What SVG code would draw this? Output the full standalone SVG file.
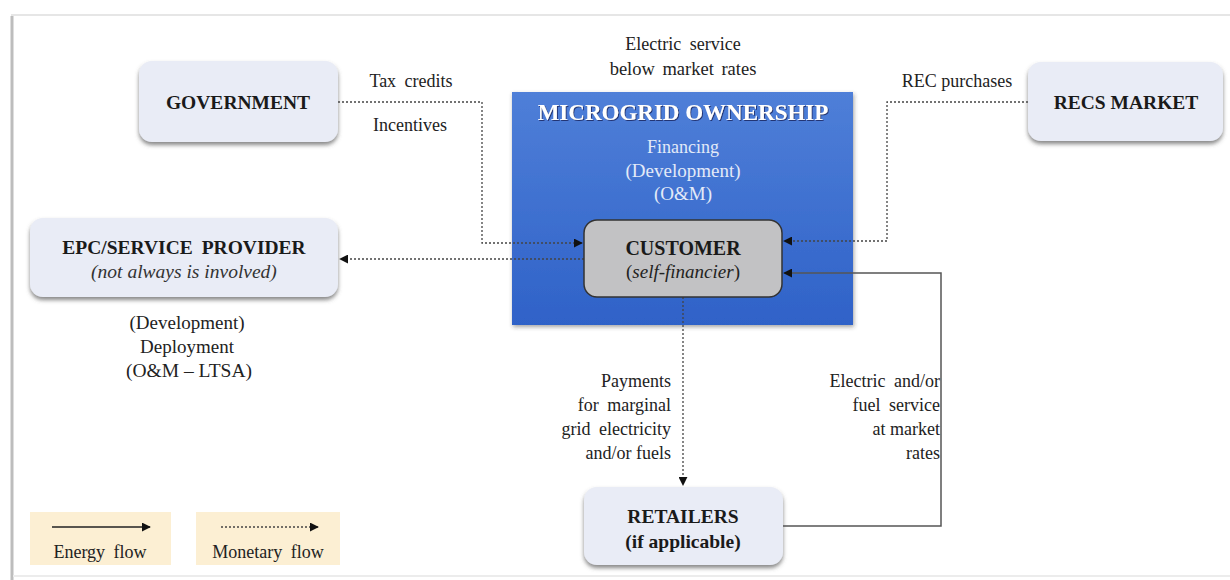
<svg xmlns="http://www.w3.org/2000/svg" width="1230" height="580" viewBox="0 0 1230 580">
  <defs>
    <style>
      text { font-family: 'Liberation Serif', 'Times New Roman', 'DejaVu Serif', serif; white-space: pre; }
      .t { font-size: 18px; fill: #222; }
      .b { font-weight: bold; font-size: 19.5px; fill: #1a1a1a; }
      .i { font-style: italic; font-size: 19.5px; fill: #333; }
      .w { word-spacing: 4px; }
      .node { fill: #e9ecf6; }
      .mono { stroke: #444; stroke-width: 1.3; stroke-dasharray: 2 2; fill: none; }
      .energy { stroke: #555; stroke-width: 1.5; fill: none; }
      .lg { fill: #fcefd3; }
      .pale { fill: #e3eaf8; }
    </style>
    <linearGradient id="blue" x1="0" y1="0" x2="0" y2="1">
      <stop offset="0" stop-color="#4f7fd8"/>
      <stop offset="1" stop-color="#2f62c8"/>
    </linearGradient>
    <filter id="shadow" x="-10%" y="-10%" width="120%" height="130%">
      <feDropShadow dx="0" dy="3" stdDeviation="2" flood-color="#555" flood-opacity="0.7"/>
    </filter>
    <filter id="soft" x="-10%" y="-10%" width="120%" height="130%">
      <feDropShadow dx="1" dy="2" stdDeviation="2" flood-color="#333" flood-opacity="0.45"/>
    </filter>
    <filter id="glow" x="-5%" y="-30%" width="110%" height="160%">
      <feDropShadow dx="1" dy="1" stdDeviation="0.6" flood-color="#1a2d6b" flood-opacity="0.9"/>
    </filter>
    <marker id="arr" viewBox="0 0 10 10" refX="9" refY="5" markerWidth="9" markerHeight="9" markerUnits="userSpaceOnUse" orient="auto">
      <path d="M0,0 L10,5 L0,10 z" fill="#111"/>
    </marker>
  </defs>

  <!-- page frame -->
  <rect x="0" y="0" width="1230" height="580" fill="#fff"/>
  <line x1="12" y1="16" x2="12" y2="580" stroke="#bdbdbd" stroke-width="3"/>
  <line x1="11" y1="15" x2="1230" y2="15" stroke="#e6e6e6" stroke-width="2"/>
  <line x1="13" y1="576" x2="1230" y2="576" stroke="#ececec" stroke-width="2"/>

  <!-- ownership block -->
  <g id="ownership">
    <rect x="512" y="92" width="341" height="233" fill="url(#blue)" filter="url(#soft)"/>
    <text class="t b" x="683" y="120" text-anchor="middle" style="fill:#fff;font-size:23px" filter="url(#glow)">MICROGRID OWNERSHIP</text>
    <text class="t pale" x="683" y="153" text-anchor="middle">Financing</text>
    <text class="t pale" x="683" y="177" text-anchor="middle" style="font-size:19px">(Development)</text>
    <text class="t pale" x="683" y="200" text-anchor="middle" style="font-size:19px">(O&amp;M)</text>
  </g>

  <!-- connectors -->
  <g id="connectors">
    <path class="mono" d="M338,102 H482 V243 H582" marker-end="url(#arr)"/>
    <path class="mono" d="M1028,102 H887 V241 H784" marker-end="url(#arr)"/>
    <path class="mono" d="M584,259 H340" marker-end="url(#arr)"/>
    <path class="mono" d="M683,297 V485" marker-end="url(#arr)"/>
    <path class="energy" d="M783,526 H941 V273 H784" marker-end="url(#arr)"/>
  </g>

  <!-- connector labels -->
  <g id="labels">
    <text class="t w" x="411" y="87" text-anchor="middle">Tax credits</text>
    <text class="t" x="410" y="131" text-anchor="middle">Incentives</text>
    <text class="t w" x="683" y="50" text-anchor="middle">Electric service</text>
    <text class="t" x="683" y="75" text-anchor="middle" style="word-spacing:3px;font-size:18.5px">below market rates</text>
    <text class="t" x="957" y="87" text-anchor="middle">REC purchases</text>
    <text class="t" x="671" y="387" text-anchor="end">Payments</text>
    <text class="t w" x="671" y="411" text-anchor="end">for marginal</text>
    <text class="t w" x="671" y="435" text-anchor="end">grid electricity</text>
    <text class="t" x="671" y="459" text-anchor="end">and/or fuels</text>
    <text class="t w" x="940" y="387" text-anchor="end">Electric and/or</text>
    <text class="t w" x="940" y="411" text-anchor="end">fuel service</text>
    <text class="t" x="940" y="435" text-anchor="end">at market</text>
    <text class="t" x="940" y="459" text-anchor="end">rates</text>
  </g>

  <g id="government">
    <rect class="node" x="139" y="61" width="199" height="81" rx="13" filter="url(#shadow)"/>
    <text class="t b" x="238" y="109" text-anchor="middle">GOVERNMENT</text>
  </g>

  <g id="recs-market">
    <rect class="node" x="1028" y="62" width="195" height="79" rx="13" filter="url(#shadow)"/>
    <text class="t b" x="1126" y="109" text-anchor="middle">RECS MARKET</text>
  </g>

  <g id="epc-provider">
    <rect class="node" x="30" y="218" width="308" height="79" rx="13" filter="url(#shadow)"/>
    <text class="t b w" x="184" y="254" text-anchor="middle">EPC/SERVICE PROVIDER</text>
    <text class="t i" x="184" y="278" text-anchor="middle">(not always is involved)</text>
    <text class="t" x="187" y="329" text-anchor="middle" style="font-size:19px">(Development)</text>
    <text class="t" x="187" y="353" text-anchor="middle" style="font-size:19px">Deployment</text>
    <text class="t" x="189" y="377" text-anchor="middle" style="font-size:19.5px">(O&amp;M – LTSA)</text>
  </g>

  <g id="customer">
    <rect x="584" y="220" width="198" height="77" rx="13" fill="#c2c2c4" stroke="#333" stroke-width="1.5"/>
    <text class="t b" x="683" y="255" text-anchor="middle" style="font-size:20px">CUSTOMER</text>
    <text class="t" x="683" y="278" text-anchor="middle" style="font-size:19px">(<tspan font-style="italic">self-financier</tspan>)</text>
  </g>

  <g id="retailers">
    <rect class="node" x="584" y="487" width="199" height="78" rx="13" filter="url(#shadow)"/>
    <text class="t b" x="683" y="523" text-anchor="middle">RETAILERS</text>
    <text class="t b" x="683" y="548" text-anchor="middle">(if applicable)</text>
  </g>

  <!-- legend -->
  <g id="legend-energy">
    <rect class="lg" x="30" y="512" width="141" height="53"/>
    <line x1="52" y1="527" x2="150" y2="527" stroke="#222" stroke-width="1.5" marker-end="url(#arr)"/>
    <text class="t w" x="100" y="558" text-anchor="middle">Energy flow</text>
  </g>
  <g id="legend-monetary">
    <rect class="lg" x="196" y="512" width="144" height="53"/>
    <line class="mono" x1="221" y1="527" x2="318" y2="527" marker-end="url(#arr)"/>
    <text class="t w" x="268" y="558" text-anchor="middle">Monetary flow</text>
  </g>
</svg>
